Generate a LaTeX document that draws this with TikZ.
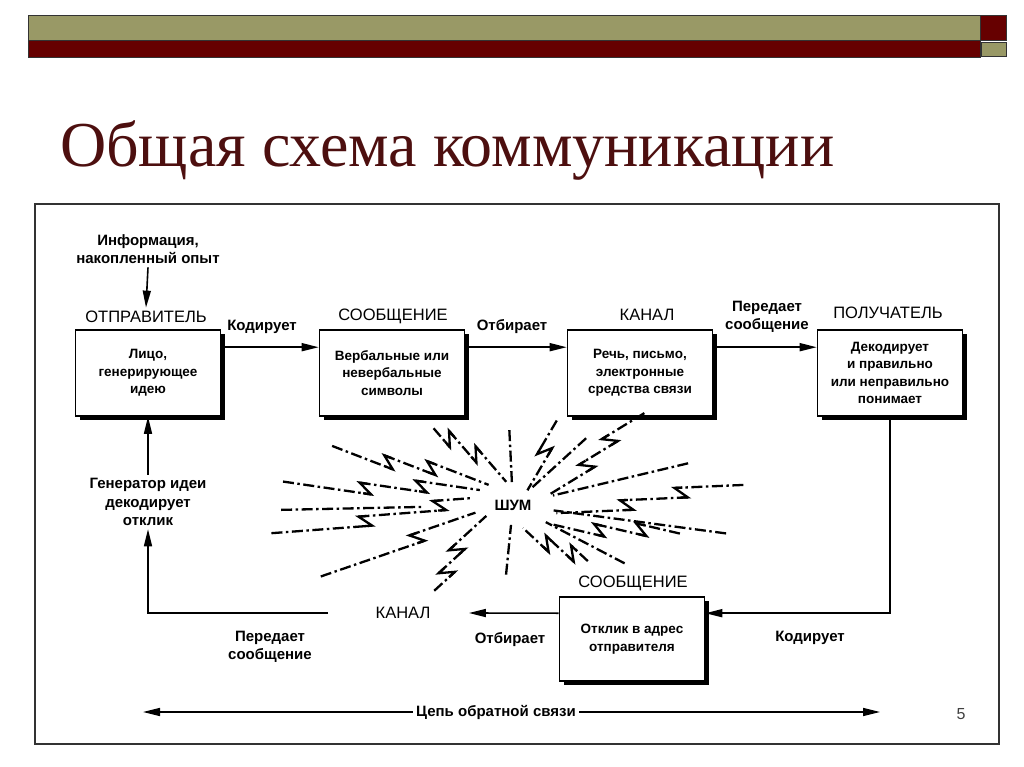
\documentclass[tikz,border=0pt]{standalone}
\usepackage{fontspec}
\setmainfont{Liberation Serif}
\newfontfamily\schemafont{Liberation Sans}
\usetikzlibrary{arrows.meta,shadows}
\definecolor{olivebar}{HTML}{999966}
\definecolor{maroonbar}{HTML}{660000}
\definecolor{titlered}{HTML}{4D0F0F}

\begin{document}
\begin{tikzpicture}[x=1pt, y=-1pt,
  blok/.style={draw, line width=1.6pt, fill=white, minimum width=145pt, minimum height=86pt,
    inner sep=1pt, align=center, font=\schemafont\bfseries\fontsize{13.5}{17.5}\selectfont,
    drop shadow={shadow xshift=4pt, shadow yshift=-4pt, fill=black, opacity=1}},
  rol/.style={font=\schemafont\fontsize{16.5}{19}\selectfont},
  lbl/.style={font=\schemafont\bfseries\fontsize{15}{18.5}\selectfont, align=center},
  arr/.style={line width=1.6pt, -{Triangle[length=17pt,width=8pt]}},
  noise/.style={line width=2.3pt, dash pattern=on 11pt off 3.5pt on 2.5pt off 3.5pt},
  zig/.style={line width=2.3pt}]
  \useasboundingbox (0,0) rectangle (1024,767);
  % header bar
  \filldraw[fill=olivebar, draw=black!80, line width=.8pt] (28,15) rectangle (980,40);
  \filldraw[fill=maroonbar, draw=black!80, line width=.8pt] (28,40) rectangle (980,57);
  \filldraw[fill=maroonbar, draw=black!80, line width=.8pt] (980,15) rectangle (1006,40);
  \filldraw[fill=olivebar, draw=black!80, line width=.8pt] (981,42) rectangle (1006,56);
  \node[anchor=base west, inner sep=0pt, text=titlered, font=\fontsize{64}{70}\selectfont] (title) at (60,167) {Общая схема коммуникации};
  \draw[black!80, line width=1.5pt] (35,204) rectangle (999,744);

  % upper row
  \node[lbl] (inf) at (148,249) {Информация,\\накопленный опыт};
  \node[rol] (h1) at (146,317) {ОТПРАВИТЕЛЬ};
  \node[blok] (send) at (148,373) {Лицо,\\генерирующее\\идею};
  \node[rol] (h2) at (393,316) {СООБЩЕНИЕ};
  \node[blok] (msg) at (392,373) {Вербальные или\\невербальные\\символы};
  \node[rol] (h3) at (647,315) {КАНАЛ};
  \node[blok] (chan) at (640,373) {Речь, письмо,\\электронные\\средства связи};
  \node[rol] (h4) at (888,313) {ПОЛУЧАТЕЛЬ};
  \node[blok] (recv) at (890,373) {Декодирует\\и правильно\\или неправильно\\понимает};
  \node[lbl] (kod1) at (262,327) {Кодирует};
  \node[lbl] (otb1) at (512,327) {Отбирает};
  \node[lbl] (per1) at (767,317) {Передает\\сообщение};
  \draw[arr] (inf.south) -- (h1.north);
  \draw[arr] ([yshift=-18pt]send.north east) -- ([yshift=-18pt]msg.north west);
  \draw[arr] ([yshift=-18pt]msg.north east) -- ([yshift=-18pt]chan.north west);
  \draw[arr] ([yshift=-18pt]chan.north east) -- ([yshift=-18pt]recv.north west);

  % feedback loop
  \node[rol] (h5) at (633,583) {СООБЩЕНИЕ};
  \node[blok, minimum height=84pt] (resp) at (632,639) {Отклик в адрес\\отправителя};
  \node[lbl] (kod2) at (810,638) {Кодирует};
  \node[lbl] (otb2) at (510,640) {Отбирает};
  \node[rol] (kan2) at (403,613) {КАНАЛ};
  \node[lbl] (per2) at (270,647) {Передает\\сообщение};
  \node[lbl] (gen) at (148,502) {Генератор идеи\\декодирует\\отклик};
  \draw[arr] (recv.south) |- ([yshift=-17pt]resp.north east);
  \draw[arr] ([yshift=-17pt]resp.north west) -- ([xshift=35pt]kan2.east);
  \draw[arr] ([xshift=-44pt]kan2.west) -| (gen.south);
  \draw[arr] (gen.north) -- (send.south);

  \node[lbl] (fb) at (496,712) {Цепь обратной связи};
  \coordinate (fbL) at (143,712);
  \coordinate (fbR) at (880,712);
  \draw[arr] (fb.west) -- (fbL);
  \draw[arr] (fb.east) -- (fbR);

  % noise
  \node[lbl] (shum) at (513,505) {ШУМ};
  \begin{scope}[shift={(shum.center)}]
    \foreach \a/\ri/\ro in {92.8/20/75, 42.4/24/99, 13.4/41/180, -7.6/41/215, -27.6/37/126, -95.7/20/70, 181.2/92/232}
      \draw[noise, rotate=\a] (\ro,0) -- (\ri,0);
    \foreach \a/\ri/\ro/\za in {59.6/20/95/56, -161/38/205/95} {
      \draw[noise, rotate=\a] (\ro,-5) -- (\za,-5) (\za+13,5) -- (\ri,5);
      \draw[zig, rotate=\a] (\za+8,-5) -- (\za,-5) -- (\za+13,5) -- (\za+5,5);
    }
    \foreach \a/\ri/\ro/\za/\zb in {130.8/22/110/85/56, 31.4/36/160/110/77, 2.5/43/231/162/107,
        -13.1/42/169/124/83, -43/23/93/70/45, -137.5/27/116/88/65, -175.7/40/243/142/67,
        171.7/35/231/142/87, 158.9/30/190/125/83} {
      \draw[noise, rotate=\a] (\ro,-10) -- (\za,-10) (\za+13,0) -- (\zb,0) (\zb+13,10) -- (\ri,10);
      \draw[zig, rotate=\a] (\za+8,-10) -- (\za,-10) -- (\za+13,0) -- (\za+5,0)
        (\zb+8,0) -- (\zb,0) -- (\zb+13,10) -- (\zb+5,10);
    }
  \end{scope}

  \node[font=\schemafont\fontsize{16}{18}\selectfont, text=black!75] (pnum) at (961,714) {5};
\end{tikzpicture}
\end{document}
